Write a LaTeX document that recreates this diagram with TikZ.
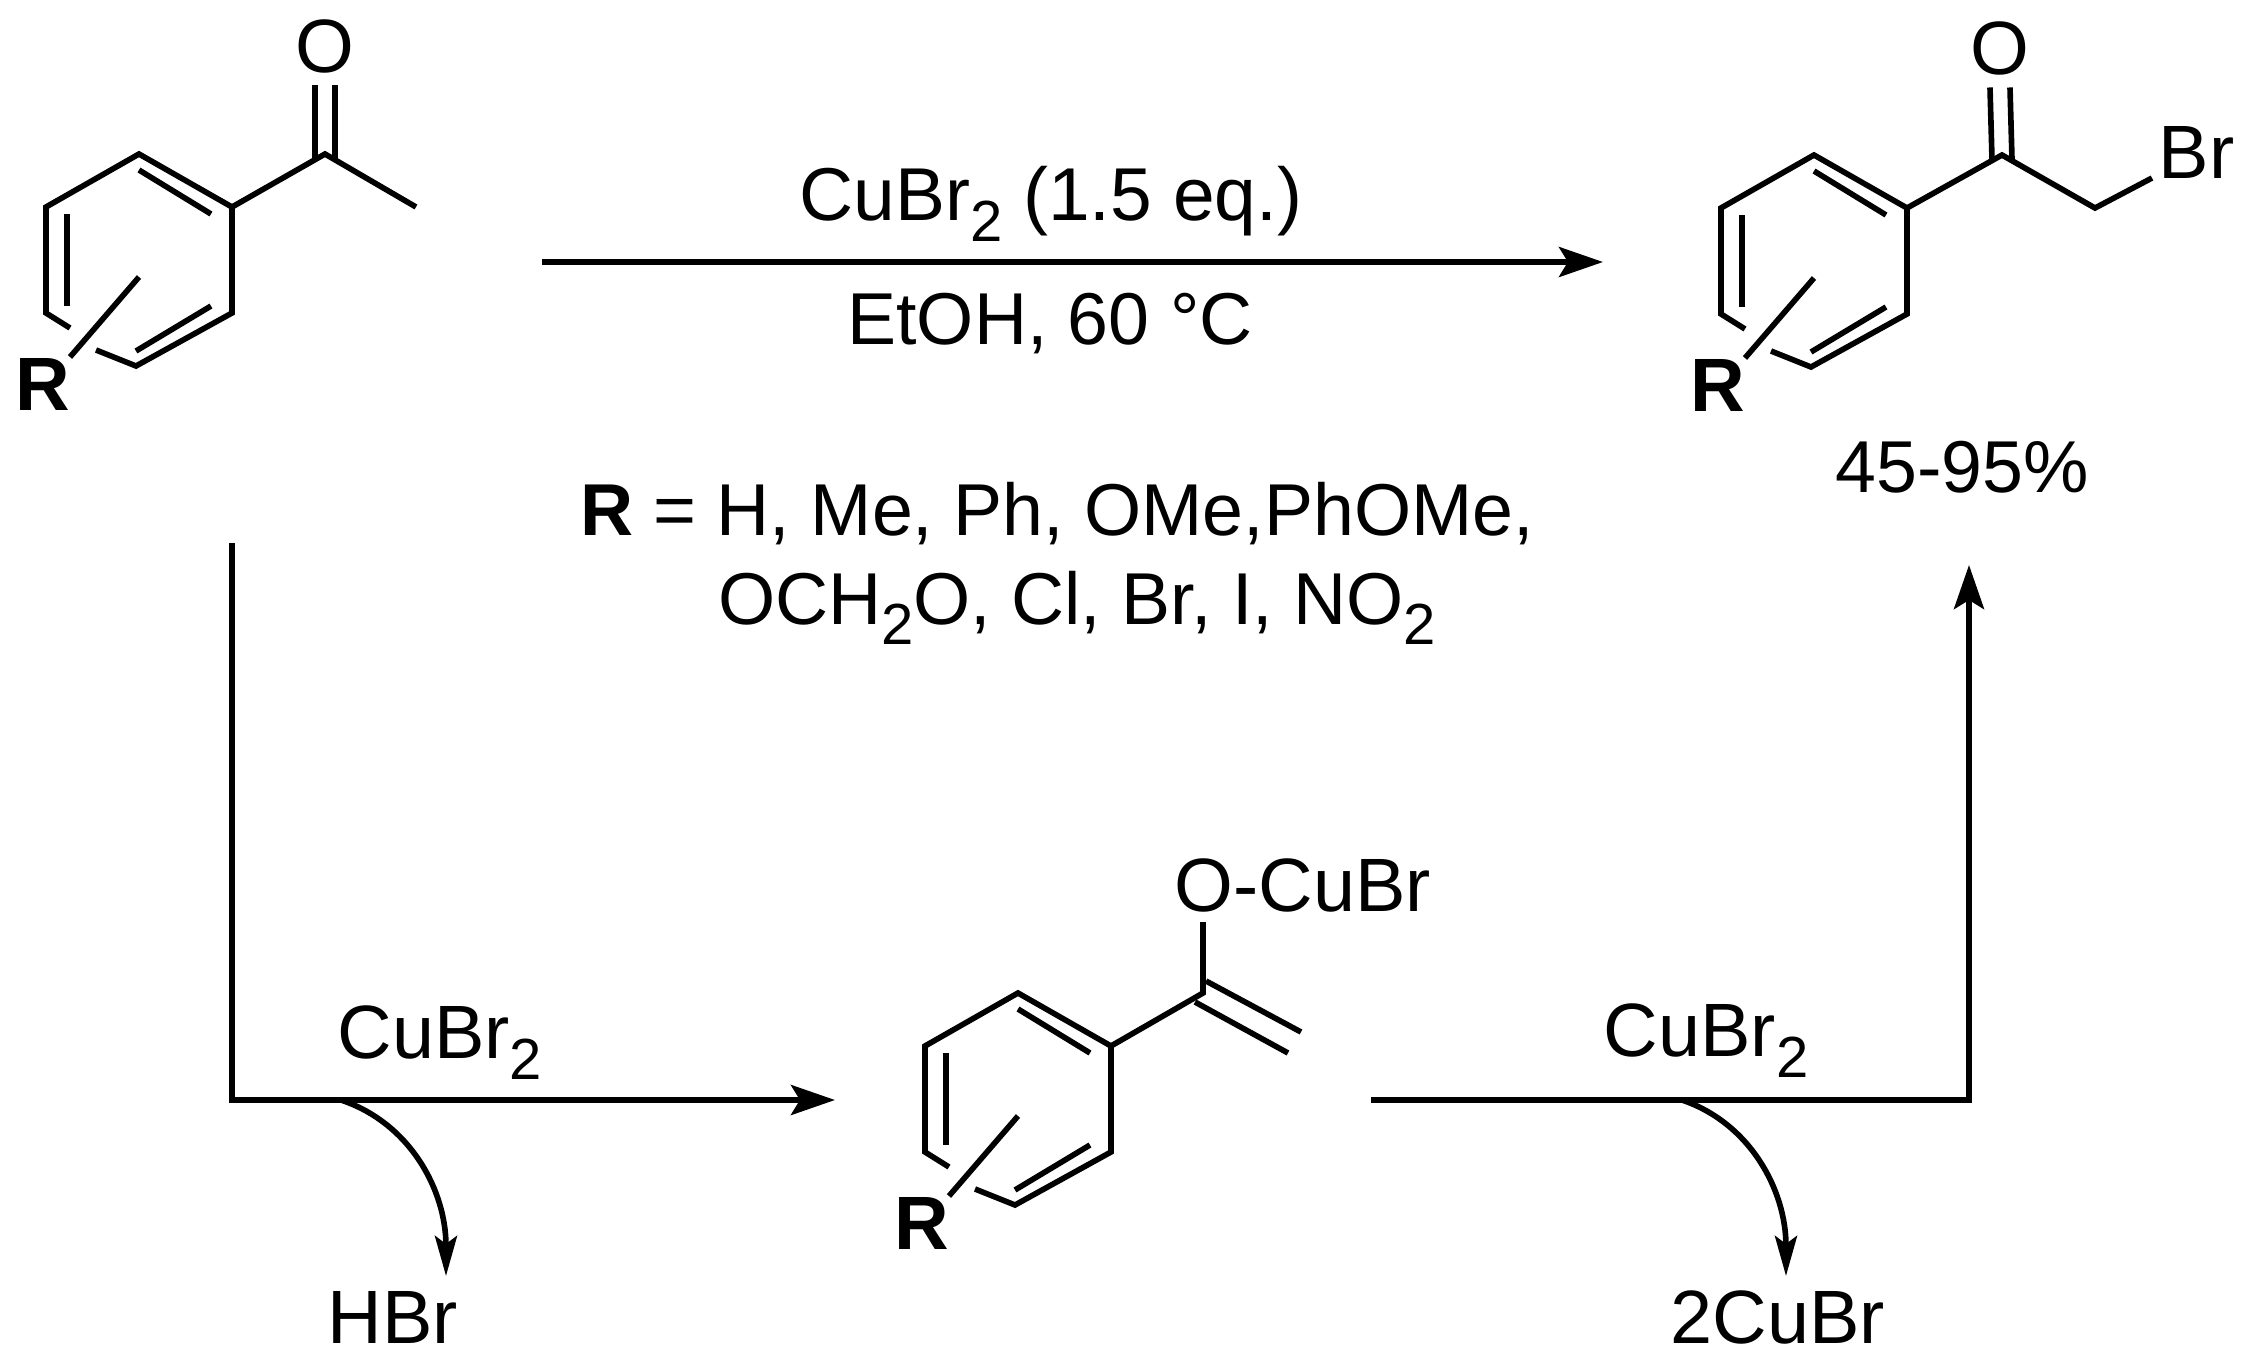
\documentclass[tikz,border=0pt]{standalone}
\usepackage{fontspec}
\setmainfont{Liberation Sans}
\usetikzlibrary{arrows.meta}
\newcommand{\subtwo}{\raisebox{-0.28em}{\fontsize{16.5}{20}\selectfont 2}}
\tikzset{
    bond/.style={line width=1.6pt, line cap=butt, line join=miter},
    rxn/.style={line width=1.6pt, line join=miter, -{Stealth[length=0.44cm, width=0.3cm, inset=0.09cm]}},
    curly/.style={line width=1.6pt, -{Stealth[length=0.4cm, width=0.22cm, inset=0.08cm]}},
    label/.style={inner sep=0pt, font=\fontsize{21.5}{26}\selectfont},
    note/.style={inner sep=0pt, font=\fontsize{20.9}{26}\selectfont},
    ring/.pic={
        \coordinate (-t) at (0,-106);
        \coordinate (-tr) at (93,-53);
        \coordinate (-br) at (93,53);
        \coordinate (-b) at (-3,106);
        \coordinate (-bl) at (-93,53);
        \coordinate (-tl) at (-93,-53);
        \coordinate (-gapa) at (-69,68);
        \coordinate (-gapb) at (-43,90);
        \draw[bond] (-gapb) -- (-b) -- (-br) -- (-tr) -- (-t) -- (-tl) -- (-bl) -- (-gapa);
        \draw[bond] (0,-90) -- (72,-46);
        \draw[bond] (-72,-46) -- (-72,46);
        \draw[bond] (-3,91) -- (72,46);
        \node[label, font=\fontsize{21.5}{26}\selectfont\bfseries] (-r) at (-96,124) {R};
        \draw[bond] (0,17) -- (-69,97);
    }
}
\begin{document}
\begin{tikzpicture}[x=0.01cm, y=-0.01cm]
    \useasboundingbox (0,0) rectangle (2253,1372);

    % starting ketone
    \pic (ketone) at (139,260) {ring};
    \coordinate (ketoneC) at (325,154);
    \coordinate (ketoneMe) at (416,207);
    \node[label] (ketoneO) at (325,46) {O};
    \draw[bond] (ketone-tr) -- (ketoneC) -- (ketoneMe);
    \draw[bond] ([shift={(-10,4)}]ketoneC) -- ([shift={(-10,12)}]ketoneO.south);
    \draw[bond] ([shift={(10,4)}]ketoneC) -- ([shift={(10,12)}]ketoneO.south);

    % bromo ketone
    \pic (bromo) at (1814,261) {ring};
    \coordinate (bromoC) at (2002,155);
    \coordinate (bromoCH) at (2095,208);
    \coordinate (bromoEnd) at (2152,178);
    \node[label] (bromoO) at (2000,48) {O};
    \node[label, anchor=west] (bromoBr) at (2158,152) {Br};
    \draw[bond] (bromo-tr) -- (bromoC) -- (bromoCH) -- (bromoEnd);
    \draw[bond] ([shift={(-10,4)}]bromoC) -- ([shift={(-10,12)}]bromoO.south);
    \draw[bond] ([shift={(10,4)}]bromoC) -- ([shift={(10,12)}]bromoO.south);
    \node[note] (yield) at (1962,467) {45-95\%};

    % enolate
    \pic (enol) at (1018,1099) {ring};
    \coordinate (enolC) at (1203,993);
    \coordinate (enolOb) at (1203,922);
    \coordinate (enolA) at (1206,981);
    \coordinate (enolB) at (1301,1032);
    \coordinate (enolD) at (1195,1002);
    \coordinate (enolE) at (1288,1053);
    \node[label, anchor=west] (enolO) at (1174,885) {O-CuBr};
    \draw[bond] (enol-tr) -- (enolC) -- (enolOb);
    \draw[bond] (enolA) -- (enolB);
    \draw[bond] (enolD) -- (enolE);

    % top reaction
    \coordinate (topa) at (542,262);
    \coordinate (topb) at (1603,262);
    \draw[rxn] (topa) -- (topb);
    \node[label, font=\fontsize{21.3}{26}\selectfont] (reagent) at (1051,204) {CuBr\subtwo{} (1.5 eq.)};
    \node[note] (solvent) at (1050,324) {EtOH, 60 °C};
    \node[note] (groupsa) at (1057,514) {\textbf{R} = H, Me, Ph, OMe,PhOMe,};
    \node[note] (groupsb) at (1077,608) {OCH\subtwo{}O, Cl, Br, I, NO\subtwo};

    % lower left step
    \coordinate (lefta) at (232,543);
    \coordinate (leftc) at (232,1100);
    \coordinate (leftb) at (835,1100);
    \draw[rxn] (lefta) -- (leftc) -- (leftb);
    \node[label] (cubra) at (440,1043) {CuBr\subtwo};
    \coordinate (hbrs) at (341,1100);
    \coordinate (hbre) at (446,1276);
    \draw[curly] (hbrs) .. controls (410,1123) and (446,1190) .. (hbre);
    \node[label] (hbr) at (393,1317) {HBr};

    % lower right step
    \coordinate (righta) at (1371,1100);
    \coordinate (rightc) at (1969,1100);
    \coordinate (rightb) at (1969,565);
    \draw[rxn] (righta) -- (rightc) -- (rightb);
    \node[label] (cubrb) at (1706,1041) {CuBr\subtwo};
    \coordinate (cubrs) at (1682,1100);
    \coordinate (cubre) at (1786,1276);
    \draw[curly] (cubrs) .. controls (1750,1123) and (1786,1190) .. (cubre);
    \node[label] (cubrc) at (1778,1317) {2CuBr};
\end{tikzpicture}
\end{document}
